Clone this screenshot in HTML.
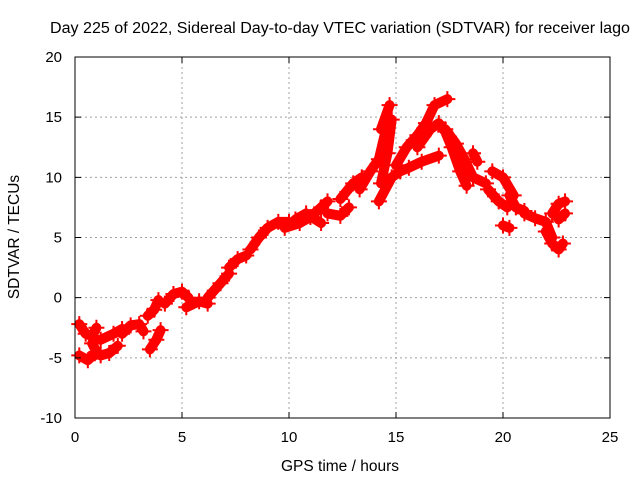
<!DOCTYPE html>
<html><head><meta charset="utf-8"><style>
body{margin:0;background:#fff}
svg text{font-family:"Liberation Sans",sans-serif;fill:#000}
</style></head><body>
<svg id="chart" width="640" height="480" xmlns="http://www.w3.org/2000/svg">
<rect width="640" height="480" fill="#fff"/>
<g id="grid"></g>
<g id="marks"></g>
<rect x="75" y="57" width="535" height="361" fill="none" stroke="#000" stroke-width="1"/>
<g id="axes"></g>
<text x="340" y="33" font-size="15.5" text-anchor="middle" textLength="580" lengthAdjust="spacingAndGlyphs">Day 225 of 2022, Sidereal Day-to-day VTEC variation (SDTVAR) for receiver lago</text>
<text x="340" y="471" font-size="15.5" text-anchor="middle">GPS time / hours</text>
<text transform="translate(19,237) rotate(-90)" font-size="15.5" text-anchor="middle">SDTVAR / TECUs</text>
</svg>
<script>
const xTicks=[0,5,10,15,20,25];
const yTicks=[-10,-5,0,5,10,15,20];
const segments=[
[[0.2,-2.2],[0.5,-3],[0.8,-3.2],[1,-2.5]],
[[0.2,-4.8],[0.6,-5.2],[1,-4.5],[0.8,-3.8]],
[[1.2,-3.5],[1.8,-3],[2.2,-2.6]],
[[1.2,-4.8],[1.6,-4.6],[2,-4]],
[[2.2,-3],[2.6,-2.3],[3,-2.2],[3.2,-2.8]],
[[3.4,-1.5],[3.7,-1],[3.9,-0.2]],
[[3.5,-4.3],[3.8,-3.5],[4,-2.7]],
[[4.2,-0.5],[4.6,0.3],[5,0.5],[5.3,0]],
[[5.2,-0.8],[5.8,-0.3],[6.2,-0.5]],
[[6.2,0],[6.8,1.2],[7.2,2]],
[[7.2,2.5],[7.6,3.2],[8,3.5]],
[[8.2,4],[8.6,5],[9,5.8],[9.5,6.3],[10,6.3]],
[[9.8,5.8],[10.5,6.2],[11,6.7],[11.5,7.5],[11.8,8]],
[[10.3,6.5],[10.8,7],[11.5,6.2]],
[[11.8,7],[12.4,6.8],[12.8,7.5]],
[[12.4,8.2],[13,9.5],[13.4,10]],
[[13.3,9],[13.8,10.5],[14.2,11.5],[14.6,14.5]],
[[14.3,14],[14.7,16]],
[[14.3,9.5],[14.6,12],[14.8,14.8]],
[[14.2,8],[14.8,10],[15.2,10.5],[15.6,10.8],[16.2,11.3],[17,11.8]],
[[15,11],[15.5,12.5],[16,13.5],[16.4,14.5],[16.8,16],[17.4,16.5]],
[[16,12.5],[16.6,14],[17,14.5],[17.3,13.8],[17.6,12.5],[18,10.5],[18.3,9.3]],
[[17.3,14],[17.8,12.8],[18.2,11.5],[18.6,10],[19.2,9.5]],
[[18.6,12],[18.8,11.3]],
[[19.5,10.5],[20,10],[20.5,8.5]],
[[19.3,9],[19.8,8],[20.2,7.5]],
[[20.3,8.5],[20.6,7.5],[21,7.2]],
[[20,6],[20.3,5.8]],
[[21,7],[21.5,6.6],[22,6.3],[22.3,5]],
[[22,5.5],[22.3,4.5],[22.6,4],[22.8,4.5]],
[[22.3,7],[22.6,7.8],[22.9,8]],
[[22.6,6.5],[22.9,7]]
];
const NS="http://www.w3.org/2000/svg";
const X0=75,X1=610,Y0=418,Y1=57;
function sx(t){return X0+(t-0)/25*(X1-X0);}
function sy(v){return Y0-(v+10)/30*(Y0-Y1);}
const grid=document.getElementById('grid'),axes=document.getElementById('axes'),marks=document.getElementById('marks');
function mk(tag,attrs,parent){const e=document.createElementNS(NS,tag);for(const k in attrs)e.setAttribute(k,attrs[k]);parent.appendChild(e);return e;}
xTicks.forEach(t=>{const x=sx(t);
 if(t>0&&t<25){const g=mk('line',{x1:x,x2:x,y1:Y1,y2:Y0,stroke:'#a0a0a0','stroke-dasharray':'2,3'},grid);
 
 }
 const tk=mk('path',{d:`M${x},${Y0}v-6M${x},${Y1}v6`,stroke:'#000'},axes);
 
 
 const l=mk('text',{x:x,y:Y0+24,'font-size':'15','text-anchor':'middle'},axes);l.textContent=t;
 
 
});
yTicks.forEach(v=>{const y=sy(v);
 if(v>-10&&v<20){const g=mk('line',{x1:X0,x2:X1,y1:y,y2:y,stroke:'#a0a0a0','stroke-dasharray':'2,3'},grid);
 
 }
 const tk=mk('path',{d:`M${X0},${y}h6M${X1},${y}h-6`,stroke:'#000'},axes);
 
 
 const l=mk('text',{x:X0-13,y:y+5,'font-size':'15','text-anchor':'end'},axes);l.textContent=v;
 
 
});
segments.forEach(seg=>{
 const p=mk('polyline',{points:seg.map(d=>sx(d[0])+','+sy(d[1])).join(' '),fill:'none',stroke:'#ff0000','stroke-width':'10','stroke-linecap':'round','stroke-linejoin':'round'},marks);
 
 
 seg.forEach(d=>{const c=mk('path',{d:`M${sx(d[0])-8},${sy(d[1])}h16M${sx(d[0])},${sy(d[1])-8}v16`,stroke:'#ff0000','stroke-width':'2'},marks);
  
  });
});
</script>
</body></html>
